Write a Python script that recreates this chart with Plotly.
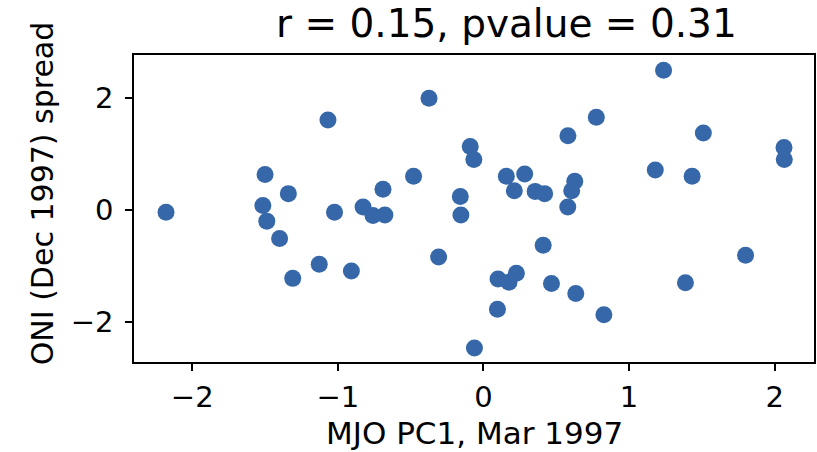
import plotly.graph_objects as go

# MJO PC1 (Mar 1997) values
mjo_pc1 = [-2.18, -1.50, -1.515, -1.488, -1.34, -1.40, -1.31, -1.128, -1.068, -1.023,
           -0.907, -0.827, -0.759, -0.69, -0.677,
           -0.48, -0.374, -0.308, -0.159, -0.155, -0.091, -0.066, -0.062, 0.096, 0.10,
           0.175, 0.226, 0.157, 0.212, 0.283, 0.355, 0.42, 0.41, 0.467, 0.58,
           0.579, 0.627, 0.606, 0.634, 0.775, 0.827, 1.18, 1.237, 1.387, 1.433,
           1.51, 1.80, 2.064, 2.066]
# ONI (Dec 1997) spread values
oni_spread = [-0.04, 0.63, 0.08, -0.20, 0.29, -0.51, -1.22, -0.97, 1.60, -0.04,
              -1.09, 0.05, -0.10, 0.37, -0.09,
              0.60, 1.99, -0.84, 0.24, -0.09, 1.13, 0.90, -2.46, -1.77, -1.23,
              -1.29, -1.13, 0.60, 0.34, 0.64, 0.33, 0.29, -0.63, -1.31, 1.32,
              0.05, 0.51, 0.34, -1.49, 1.65, -1.87, 0.71, 2.49, -1.30, 0.60,
              1.37, -0.81, 1.11, 0.90]

x_ticks = [-2, -1, 0, 1, 2]
y_ticks = [-2, 0, 2]
title_text = "r = 0.15, pvalue = 0.31"
x_label = "MJO PC1, Mar 1997"
y_label = "ONI (Dec 1997) spread"

FONT = "DejaVu Sans"

fig = go.Figure()
fig.add_trace(go.Scatter(
    x=mjo_pc1, y=oni_spread, mode="markers",
    marker=dict(size=17, color="#3567a9", line=dict(width=0)),
    showlegend=False, hoverinfo="skip",
))

axis_common = dict(
    showline=True, linecolor="black", linewidth=1.5, mirror=True,
    ticks="outside", ticklen=7, tickwidth=1.5, tickcolor="black",
    showgrid=False, zeroline=False,
    tickfont=dict(family=FONT, size=29, color="black"),
)

fig.update_layout(
    width=817, height=452,
    margin=dict(l=134, r=1, t=55, b=90),
    paper_bgcolor="white", plot_bgcolor="white",
    font=dict(family=FONT, color="black"),
    xaxis=dict(range=[-2.40, 2.27], tickvals=x_ticks, ticklabelstandoff=1, **axis_common),
    yaxis=dict(range=[-2.71, 2.76], tickvals=y_ticks, ticklabelstandoff=6, **axis_common),
)

fig.add_annotation(text=title_text, xref="paper", yref="paper",
                   x=(508 - 134) / 682, y=1 + 31 / 307, xanchor="center", yanchor="middle",
                   showarrow=False, font=dict(family=FONT, size=39, color="black"))
fig.add_annotation(text=x_label, xref="paper", yref="paper",
                   x=0.5, y=-(433 - 362) / 307, xanchor="center", yanchor="middle",
                   borderpad=0,
                   showarrow=False, font=dict(family=FONT, size=31, color="black"))
fig.add_annotation(text=y_label, xref="paper", yref="paper",
                   x=-(134 - 42) / 682, y=(362 - 193) / 307, xanchor="center", yanchor="middle",
                   textangle=-90,
                   showarrow=False, font=dict(family=FONT, size=30, color="black"))

fig.write_html("out.html",
               config={"displayModeBar": False},
               post_script="document.body.style.margin='0';document.body.style.overflow='hidden';")
